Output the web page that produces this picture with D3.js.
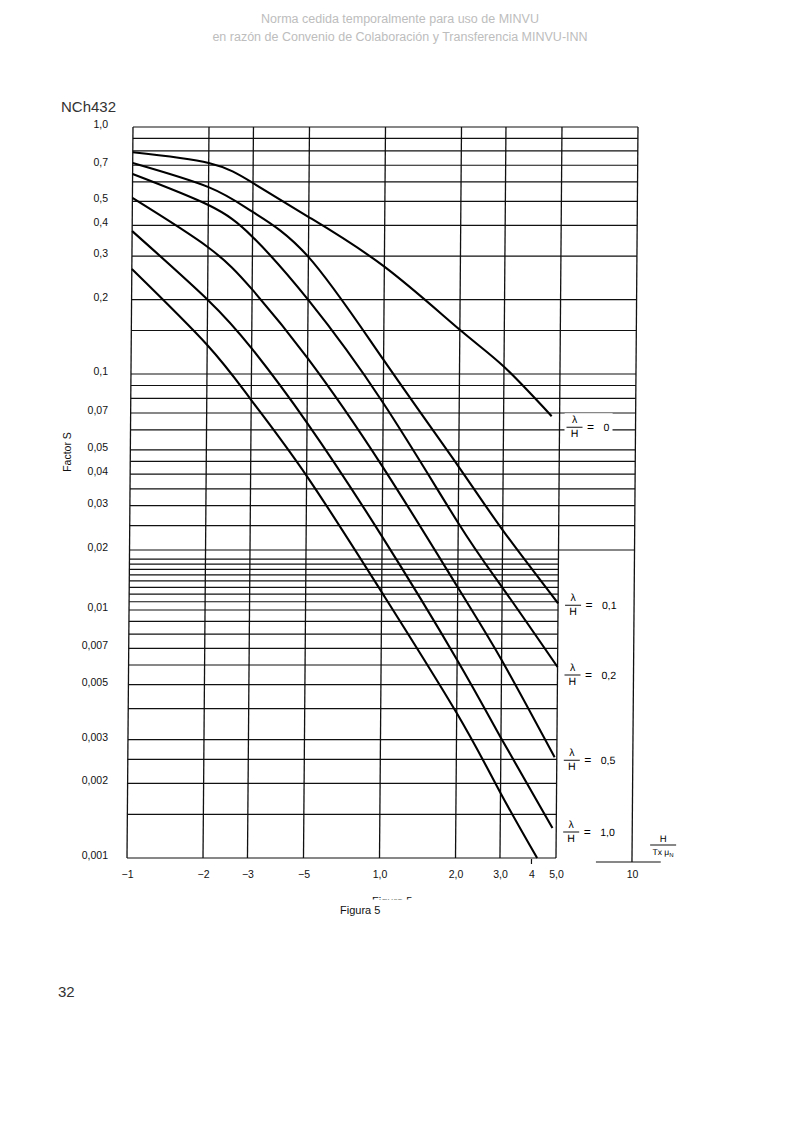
<!DOCTYPE html>
<html>
<head>
<meta charset="utf-8">
<script src="https://cdn.jsdelivr.net/npm/d3@7"></script>
<style>
body { margin: 0; background: #fff; }
text { font-family: "Liberation Sans", Arial, sans-serif; }
</style>
</head>
<body>
<svg id="chart" width="800" height="1131"></svg>
<script>
// ticks and labels
var xTicks = [0.1, 0.2, 0.3, 0.5, 1, 2, 3, 4, 5, 10];
var xTickLabels = ["\u22121", "\u22122", "\u22123", "\u22125", "1,0", "2,0", "3,0", "4", "5,0", "10"];
var yTicks = [1, 0.7, 0.5, 0.4, 0.3, 0.2, 0.1, 0.07, 0.05, 0.04, 0.03, 0.02, 0.01, 0.007, 0.005, 0.003, 0.002, 0.001];
var yTickLabels = ["1,0", "0,7", "0,5", "0,4", "0,3", "0,2", "0,1", "0,07", "0,05", "0,04", "0,03", "0,02", "0,01", "0,007", "0,005", "0,003", "0,002", "0,001"];

// grid of the log paper
var xGrid = [0.1, 0.2, 0.3, 0.5, 1, 2, 3, 5, 10];
var yGridUpper = [1, 0.9, 0.8, 0.7, 0.6, 0.5, 0.4, 0.3, 0.2, 0.15, 0.1, 0.09, 0.08, 0.07, 0.06, 0.05, 0.045, 0.04, 0.035, 0.03, 0.025, 0.02];
var yGridLower = [0.018, 0.017, 0.016, 0.015, 0.014, 0.013, 0.012, 0.011, 0.01, 0.009, 0.008, 0.007, 0.006, 0.005, 0.004, 0.003, 0.0025, 0.002, 0.0015, 0.001];

// curves, lambda/H
var curveLabels = ["0", "0,1", "0,2", "0,5", "1,0", null];
var curveX = [
  [0.1, 0.2, 0.3, 0.5, 1, 2, 3, 4.65],
  [0.1, 0.2, 0.3, 0.5, 1, 2, 3, 5],
  [0.1, 0.2, 0.3, 0.5, 1, 2, 3, 5],
  [0.1, 0.2, 0.3, 0.5, 1, 2, 3, 4.9],
  [0.1, 0.2, 0.3, 0.5, 1, 2, 3, 4.83],
  [0.1, 0.2, 0.3, 0.5, 1, 2, 3, 4.21]
];
var curveS = [
  [0.79, 0.715, 0.593, 0.432, 0.272, 0.151, 0.107, 0.068],
  [0.715, 0.571, 0.453, 0.298, 0.114, 0.0428, 0.024, 0.0108],
  [0.645, 0.483, 0.359, 0.2, 0.0767, 0.0256, 0.013, 0.00589],
  [0.516, 0.326, 0.22, 0.116, 0.0428, 0.013, 0.00629, 0.00255],
  [0.379, 0.2, 0.127, 0.064, 0.0226, 0.00629, 0.00305, 0.00132],
  [0.266, 0.131, 0.0788, 0.0394, 0.0123, 0.00384, 0.00183, 0.001]
];

var svg = d3.select("#chart");
svg.append("rect").attr("width", 800).attr("height", 1131).attr("fill", "#fff");

var x = d3.scaleLog().domain([0.1, 10]).range([127, 632]);
// the scanned paper is squeezed between 0,02 and 0,01
var y = d3.scaleLog().domain([1, 0.1, 0.02, 0.01, 0.001]).range([127, 374, 550, 610, 858]);

var y0 = y(0.001);
// scan is slightly skewed
var g = svg.append("g")
  .attr("transform", "translate(0," + y0 + ") skewX(-0.47) translate(0," + (-y0) + ")");

var ink = "#111";

g.selectAll(".hu").data(yGridUpper).enter().append("line")
  .attr("x1", x(0.1)).attr("x2", x(10))
  .attr("y1", function(d) { return y(d); }).attr("y2", function(d) { return y(d); })
  .attr("stroke", ink).attr("stroke-width", 1.2);

g.selectAll(".hl").data(yGridLower).enter().append("line")
  .attr("x1", x(0.1)).attr("x2", x(5))
  .attr("y1", function(d) { return y(d); }).attr("y2", function(d) { return y(d); })
  .attr("stroke", ink).attr("stroke-width", 1.2);

g.selectAll(".v").data(xGrid).enter().append("line")
  .attr("x1", function(d) { return x(d); }).attr("x2", function(d) { return x(d); })
  .attr("y1", y(1)).attr("y2", function(d) { return d == 10 ? y0 + 4 : y0; })
  .attr("stroke", ink).attr("stroke-width", 1.3);

// short base under the 10
g.append("line").attr("x1", x(7.2)).attr("x2", x(13))
  .attr("y1", y0 + 4).attr("y2", y0 + 4).attr("stroke", ink).attr("stroke-width", 1.2);
// tick under the 4
g.append("line").attr("x1", x(4)).attr("x2", x(4))
  .attr("y1", y0 + 1).attr("y2", y0 + 6).attr("stroke", ink).attr("stroke-width", 1.2);

var line = d3.line()
  .x(function(d) { return x(d[0]); })
  .y(function(d) { return y(d[1]); })
  .curve(d3.curveNatural);

for (var i = 0; i < curveS.length; i++) {
  var pts = curveX[i].map(function(v, j) { return [v, curveS[i][j]]; });
  g.append("path").attr("d", line(pts))
    .attr("fill", "none").attr("stroke", "#000").attr("stroke-width", 2.1);
}

// lambda / H labels
var labelDy = [11, 2, 8, 3, 4];
for (var i = 0; i < curveLabels.length; i++) {
  if (curveLabels[i] == null) continue;
  var n = curveX[i].length - 1;
  var ly = y(curveS[i][n]) + labelDy[i];
  var lab = g.append("g").attr("transform", "translate(" + (x(5) + 15) + "," + ly + ")");
  if (i == 0) {
    lab.append("rect").attr("x", -10).attr("y", -14).attr("width", 48).attr("height", 28).attr("fill", "#fff");
  }
  lab.append("text").attr("x", 0).attr("y", -4).attr("text-anchor", "middle")
    .attr("font-size", 10.5).text("\u03bb");
  lab.append("line").attr("x1", -8).attr("x2", 8).attr("y1", 0).attr("y2", 0)
    .attr("stroke", ink).attr("stroke-width", 1);
  lab.append("text").attr("x", 0).attr("y", 10).attr("text-anchor", "middle")
    .attr("font-size", 10.5).text("H");
  lab.append("text").attr("x", 16).attr("y", 4).attr("text-anchor", "middle")
    .attr("font-size", 12).text("=");
  lab.append("text").attr("x", 29).attr("y", 4)
    .attr("font-size", 10.5).text(curveLabels[i]);
}

// H / (Tx muN)
var ax = g.append("g").attr("transform", "translate(" + x(10) + "," + (y0 - 13) + ")");
ax.append("text").attr("x", 31).attr("y", -3).attr("text-anchor", "middle").attr("font-size", 9.5).text("H");
ax.append("line").attr("x1", 18).attr("x2", 44).attr("y1", 0).attr("y2", 0).attr("stroke", ink).attr("stroke-width", 1);
var tx = ax.append("text").attr("x", 31).attr("y", 10).attr("text-anchor", "middle").attr("font-size", 8.5);
tx.append("tspan").text("Tx \u03bc");
tx.append("tspan").attr("font-size", 6).attr("dy", 2).text("N");

// axes labels
var yAxis = svg.append("g").attr("transform", "translate(108,0)")
  .call(d3.axisLeft(y).tickValues(yTicks).tickSize(0).tickPadding(0)
    .tickFormat(function(d, i) { return yTickLabels[i]; }));
yAxis.select(".domain").remove();
yAxis.selectAll("text").attr("y", -3).attr("font-size", 10.5)
  .attr("font-family", "Liberation Sans, Arial, sans-serif").attr("fill", "#111");

var xAxis = svg.append("g").attr("transform", "translate(0," + y0 + ")")
  .call(d3.axisBottom(x).tickValues(xTicks).tickSize(0).tickPadding(13)
    .tickFormat(function(d, i) { return xTickLabels[i]; }));
xAxis.select(".domain").remove();
xAxis.selectAll("text").attr("font-size", 10.5)
  .attr("font-family", "Liberation Sans, Arial, sans-serif").attr("fill", "#111");

svg.append("text").attr("transform", "translate(71,452) rotate(-90)")
  .attr("text-anchor", "middle").attr("font-size", 10.5).attr("fill", "#111").text("Factor S");

// page texts
svg.append("text").attr("x", 400).attr("y", 23).attr("text-anchor", "middle")
  .attr("font-size", 12.5).attr("fill", "#bdbdbd").text("Norma cedida temporalmente para uso de MINVU");
svg.append("text").attr("x", 400).attr("y", 41).attr("text-anchor", "middle")
  .attr("font-size", 12.5).attr("fill", "#bdbdbd").text("en raz\u00f3n de Convenio de Colaboraci\u00f3n y Transferencia MINVU-INN");
svg.append("text").attr("x", 61).attr("y", 112).attr("font-size", 15).attr("fill", "#333").text("NCh432");
svg.append("text").attr("x", 340).attr("y", 914).attr("font-size", 11).attr("fill", "#111").text("Figura 5");
svg.append("clipPath").attr("id", "cut").append("rect").attr("x", 360).attr("y", 880).attr("width", 80).attr("height", 19.5);
svg.append("text").attr("x", 372).attr("y", 905).attr("font-size", 11).attr("fill", "#111")
  .attr("clip-path", "url(#cut)").text("Figura 5");
svg.append("text").attr("x", 58).attr("y", 997).attr("font-size", 15).attr("fill", "#333").text("32");
</script>
</body>
</html>
